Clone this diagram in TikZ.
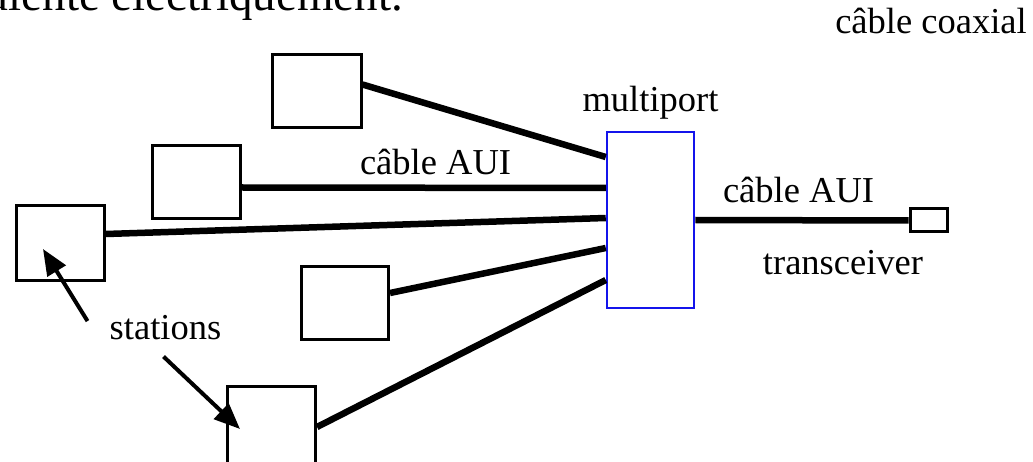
\documentclass[tikz,border=0pt]{standalone}
\usepackage{fontspec}
\setmainfont{Liberation Serif}
\usetikzlibrary{arrows.meta,calc}
\definecolor{mpblue}{RGB}{20,20,235}
\tikzset{
  station/.style={draw, line width=3pt, inner sep=0pt, minimum width=88pt, minimum height=73pt},
  cable/.style={line width=6.5pt},
  pointer/.style={line width=4pt, -{Triangle[length=26pt, width=21pt]}},
  lbl/.style={inner sep=0pt, anchor=base, font=\fontsize{36.5}{40}\selectfont},
}
\begin{document}
\begin{tikzpicture}[x=1pt, y=-1pt]
  \useasboundingbox (0,0) rectangle (1033,462);
  \clip (0,0) rectangle (1033,462);

  % tail of the sentence above the figure
  \node[inner sep=0pt, anchor=base east, font=\fontsize{47}{52}\selectfont] (head) at (403,11) {équivalente électriquement.};

  % stations
  \node[station, minimum width=89pt] (sA) at (316.5,91.5) {};
  \node[station] (sB) at (196.5,182.5) {};
  \node[station, minimum height=75pt] (sC) at (60.5,243) {};
  \node[station, minimum width=87pt] (sD) at (345,303) {};
  \node[station, minimum width=88pt, minimum height=84pt] (sE) at (271.5,428) {};

  % multiport repeater and transceiver
  \node[draw=mpblue, line width=2.5pt, inner sep=0pt, minimum width=87pt, minimum height=176pt] (mp) at (650.5,220) {};
  \node[draw, line width=3pt, inner sep=0pt, minimum width=37pt, minimum height=23pt] (tr) at (928.5,220.5) {};

  % AUI cables from the stations
  \draw[cable] ($(sA.east)+(0,-7)$) -- ($(mp.west)+(0,-63)$);
  \draw[cable] ($(sB.east)+(0,5)$) -- ($(mp.west)+(0,-32)$);
  \draw[cable] ($(sC.east)+(0,-9)$) -- ($(mp.west)+(0,-2)$);
  \draw[cable] ($(sD.east)+(0,-10)$) -- ($(mp.west)+(0,28)$);
  \draw[cable] ($(sE.east)+(0,-1)$) -- ($(mp.west)+(0,60)$);
  \draw[cable] (mp.east) -- (tr.west);

  % labels
  \node[lbl] (lAUI) at (435.5,175) {câble AUI};
  \node[lbl] (lmp) at (650.5,112) {multiport};
  \node[lbl] (lAUI2) at (798.5,203) {câble AUI};
  \node[lbl] (ltr) at (843,275) {transceiver};
  \node[lbl] (lst) at (165.5,339) {stations};
  \node[lbl] (lcx) at (931,34) {câble coaxial};

  % pointers from the "stations" label
  \coordinate (pA) at (43,249);
  \coordinate (pE) at (240,429);
  \draw[pointer] ($(lst.west)+(-22,-6)$) -- (pA);
  \draw[pointer] ($(lst.south)+(-2,17)$) -- (pE);
\end{tikzpicture}
\end{document}
